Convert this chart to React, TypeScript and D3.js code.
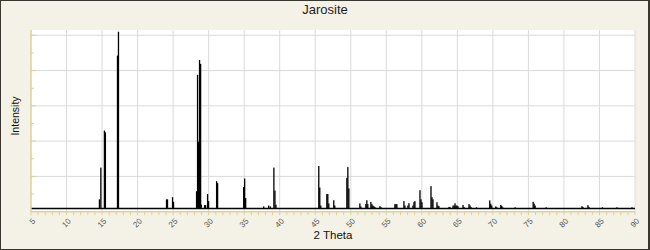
import React from "react";
import * as d3 from "d3";

const peakTheta = [
  14.63, 14.83, 15.33, 15.47, 17.17, 17.31, 24.07, 24.21, 24.92, 25.06,
  28.3, 28.44, 28.58, 28.72, 28.87, 28.96, 29.43, 29.57, 29.85, 29.99,
  31.12, 31.26, 34.93, 35.07, 35.21, 37.75, 38.45, 38.69, 39.18, 39.33,
  39.47, 45.5, 45.64, 45.78, 46.63, 46.77, 46.91, 47.61, 47.75, 49.45,
  49.59, 49.73, 51.28, 51.42, 52.12, 52.26, 52.4, 52.83, 52.97, 53.11,
  53.25, 53.39, 54.1, 54.24, 56.21, 56.35, 56.49, 57.48, 57.62, 58.04,
  58.19, 58.75, 58.89, 59.03, 59.74, 59.88, 60.02, 61.29, 61.43, 61.57,
  62.13, 62.27, 62.41, 63.82, 63.96, 64.39, 64.53, 64.67, 64.81, 64.95,
  65.09, 65.8, 65.94, 66.64, 66.78, 66.92, 67.69, 69.56, 69.7, 69.84,
  70.41, 70.55, 71.11, 71.25, 71.39, 73.13, 75.67, 75.81, 75.95, 77.5,
  82.53, 82.67, 83.38, 83.52, 85.42, 87.46, 89.58,
];
const peakIntensity = [
  7, 25, 46, 45, 88.5, 102, 7, 7, 8.2, 5.6,
  11.6, 77.6, 39.7, 86, 83.8, 4, 3.7, 3.7, 10, 6,
  17.3, 16.2, 14, 18.8, 7.7, 3, 3.5, 3, 25, 12,
  4, 25.9, 13.7, 3.5, 10, 10, 4.7, 6.5, 3.5, 19.2,
  25.3, 13.2, 4.7, 3, 4.3, 6.5, 4.3, 5.5, 4.3, 3.5,
  3.1, 2.7, 3.1, 2.7, 4.3, 4.3, 4.3, 6, 3.5, 3.5,
  4.8, 3.5, 5.4, 6, 12.2, 7, 5.4, 14.5, 8.2, 7,
  5.4, 3.5, 3.1, 2.7, 2.7, 3.5, 3.5, 4.8, 3.5, 3.5,
  3.1, 3.8, 2.7, 4.3, 3.5, 2.7, 2.5, 6.4, 4.5, 3.5,
  3, 2.5, 3.8, 3.3, 2.5, 2.5, 5.6, 4.6, 3.5, 2.5,
  3.1, 2.7, 3.7, 2.7, 2.5, 2.5, 2.5,
];
const baselineIntensity = 1.8;
const xTickValues = [5, 10, 15, 20, 25, 30, 35, 40, 45, 50, 55, 60, 65, 70, 75, 80, 85, 90];
const xTickLabels = ["5", "10", "15", "20", "25", "30", "35", "40", "45", "50", "55", "60", "65", "70", "75", "80", "85", "90"];
const yGridValues = [20, 40, 60, 80, 100];
const yMinorValues = [10, 30, 50, 70, 90];
const titleText = "Jarosite";
const xTitle = "2 Theta";
const yTitle = "Intensity";

export default function App() {
  const W = 650, H = 250;
  const left = 31, right = 635, top = 30, bottom = 211.7;
  const x = d3.scaleLinear().domain([5, 90]).range([left, right]);
  const y = d3.scaleLinear().domain([0, 103]).range([bottom, top]);
  const minorX = d3.range(5, 91, 1);
  const tan = "#dcd196";
  const grid = "#dadada";
  const font = "'Liberation Sans', Arial, sans-serif";

  return (
    <svg width={W} height={H} style={{ position: "fixed", left: 0, top: 0 }}>
      <rect x={0} y={0} width={W} height={H} fill="#3a3731" />
      <rect x={1} y={1} width={647} height={248} fill="#f4f2e6" />
      <text x={325} y={14} textAnchor="middle" fontFamily={font} fontSize={13} fill="#222">{titleText}</text>
      <rect x={left} y={top} width={right - left} height={bottom - top} fill="#ffffff" />
      {xTickValues.slice(1).map((v) => (
        <line key={"gx" + v} x1={x(v)} x2={x(v)} y1={top} y2={bottom} stroke={grid} strokeWidth={1} />
      ))}
      {yGridValues.map((v) => (
        <line key={"gy" + v} x1={left} x2={right} y1={y(v)} y2={y(v)} stroke={grid} strokeWidth={1} />
      ))}
      <line x1={left} x2={right} y1={y(baselineIntensity)} y2={y(baselineIntensity)} stroke="#000" strokeWidth={1.5} />
      {peakTheta.map((t, i) => (
        <rect key={"p" + i} x={x(t) - 0.65} width={1.3} y={y(peakIntensity[i])} height={y(baselineIntensity) - y(peakIntensity[i])} fill="#000" />
      ))}
      <line x1={left} x2={left} y1={top} y2={bottom} stroke={tan} strokeWidth={1.5} />
      {yGridValues.map((v) => (
        <line key={"ty" + v} x1={left} x2={left + 5} y1={y(v)} y2={y(v)} stroke={tan} strokeWidth={1} />
      ))}
      {yMinorValues.map((v) => (
        <line key={"tym" + v} x1={left} x2={left + 3} y1={y(v)} y2={y(v)} stroke={tan} strokeWidth={1} />
      ))}
      <line x1={left} x2={right} y1={bottom} y2={bottom} stroke={tan} strokeWidth={1.5} />
      {minorX.map((v) => (
        <line key={"tx" + v} x1={x(v)} x2={x(v)} y1={bottom} y2={bottom + 3.5} stroke={tan} strokeWidth={1} />
      ))}
      {xTickValues.map((v, i) => (
        <text key={"lx" + v} transform={`translate(${x(v) + 1},${bottom + 6}) rotate(-45)`} textAnchor="end" dy="0.7em"
          fontFamily={font} fontSize={8} fill="#555">{xTickLabels[i]}</text>
      ))}
      <text x={(left + right) / 2} y={239} textAnchor="middle" fontFamily={font} fontSize={11.5} fill="#111">{xTitle}</text>
      <text transform={`translate(18.5,116) rotate(-90)`} textAnchor="middle" fontFamily={font} fontSize={10.5} fill="#111">{yTitle}</text>
    </svg>
  );
}
